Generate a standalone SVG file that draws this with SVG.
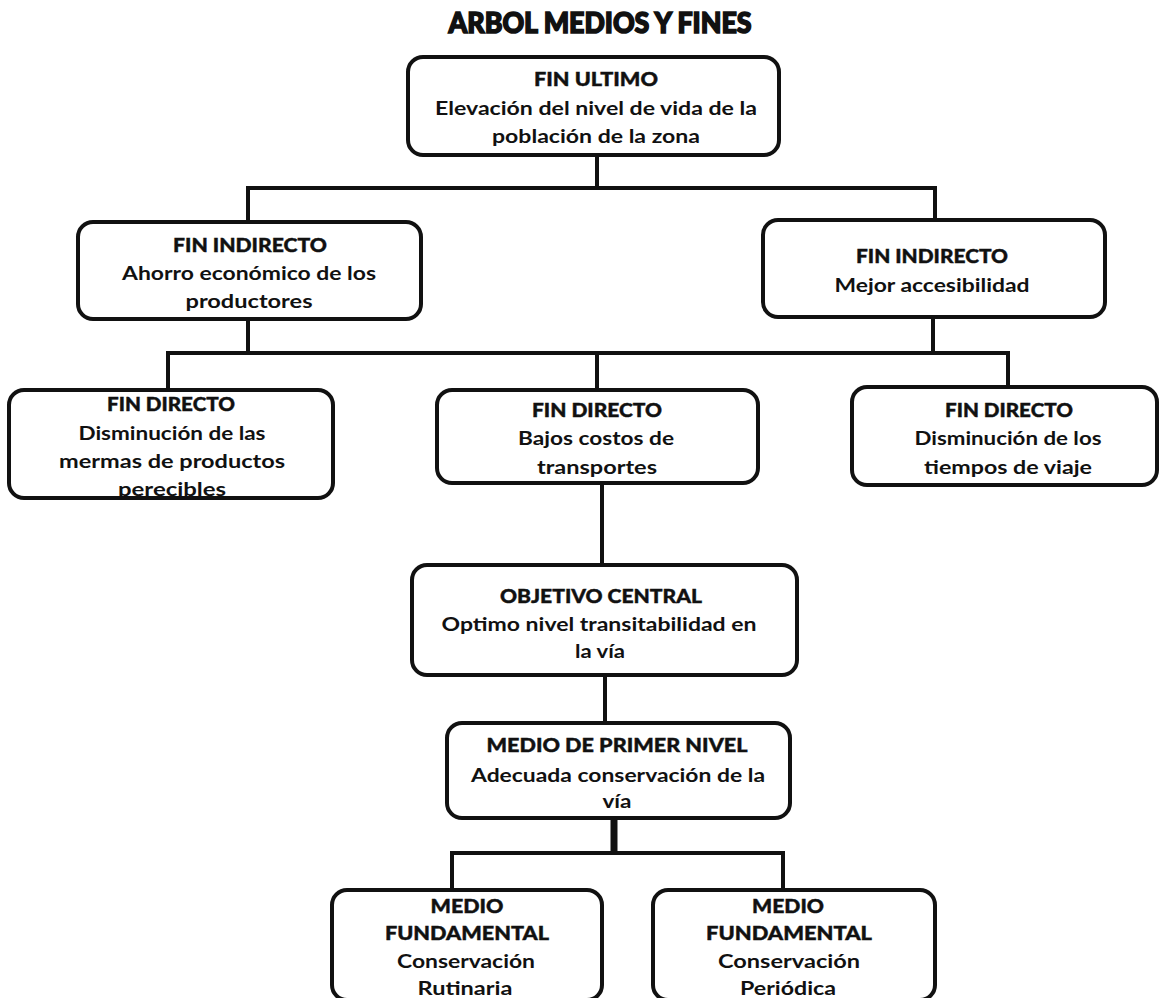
<svg xmlns="http://www.w3.org/2000/svg" width="1162" height="998" viewBox="0 0 1162 998">
<style>
.box{fill:#fff;stroke:#111;stroke-width:4}
.t{font-family:Lato,"Open Sans","Liberation Sans",sans-serif;font-size:19px;font-weight:bold;fill:#111;text-anchor:middle}
.h{font-family:Lato,"Open Sans","Liberation Sans",sans-serif;font-size:19px;font-weight:900;fill:#111;stroke:#111;stroke-width:0.4;text-anchor:middle}
.c{stroke:#111;stroke-width:4;fill:none;stroke-linecap:square}
.title{font-family:Lato,"Liberation Sans",sans-serif;font-size:29px;font-weight:900;fill:#111;stroke:#111;stroke-width:1.6;text-anchor:middle}
</style>
<rect width="1162" height="998" fill="#fff"/>
<text class="title" x="600" y="33" textLength="303" lengthAdjust="spacingAndGlyphs">ARBOL MEDIOS Y FINES</text>

<g id="connectors">
<path class="c" d="M597 155V188M248 188H935M248 188V222M935 188V220"/>
<path class="c" d="M248 319V353M933 317V353M168 353H1008M168 353V390M597 353V390M1008 353V387"/>
<path class="c" d="M602 483V565M605 675V723"/>
<path d="M614 818V853" stroke="#111" stroke-width="7"/>
<path class="c" d="M452 853H783M452 853V890M783 853V890"/>
</g>

<g id="fin-ultimo">
<rect class="box" x="408" y="57" width="371" height="98" rx="15"/>
<text class="h" x="596" y="86" textLength="124" lengthAdjust="spacingAndGlyphs">FIN ULTIMO</text>
<text class="t" x="596" y="115" textLength="322" lengthAdjust="spacingAndGlyphs">Elevación del nivel de vida de la</text>
<text class="t" x="596" y="143" textLength="208" lengthAdjust="spacingAndGlyphs">población de la zona</text>
</g>

<g id="fin-indirecto-1">
<rect class="box" x="78" y="222" width="343" height="97" rx="15"/>
<text class="h" x="250" y="252" textLength="154" lengthAdjust="spacingAndGlyphs">FIN INDIRECTO</text>
<text class="t" x="249" y="280" textLength="254" lengthAdjust="spacingAndGlyphs">Ahorro económico de los</text>
<text class="t" x="249" y="308" textLength="127" lengthAdjust="spacingAndGlyphs">productores</text>
</g>

<g id="fin-indirecto-2">
<rect class="box" x="763" y="220" width="342" height="97" rx="15"/>
<text class="h" x="932" y="263" textLength="152" lengthAdjust="spacingAndGlyphs">FIN INDIRECTO</text>
<text class="t" x="932" y="292" textLength="195" lengthAdjust="spacingAndGlyphs">Mejor accesibilidad</text>
</g>

<g id="fin-directo-1">
<rect class="box" x="9" y="390" width="324" height="108" rx="15"/>
<text class="h" x="171" y="411" textLength="128" lengthAdjust="spacingAndGlyphs">FIN DIRECTO</text>
<text class="t" x="172" y="440" textLength="187" lengthAdjust="spacingAndGlyphs">Disminución de las</text>
<text class="t" x="172" y="468" textLength="226" lengthAdjust="spacingAndGlyphs">mermas de productos</text>
<text class="t" x="172" y="496" textLength="108" lengthAdjust="spacingAndGlyphs" fill="#333">perecibles</text>
</g>

<g id="fin-directo-2">
<rect class="box" x="437" y="390" width="321" height="93" rx="15"/>
<text class="h" x="597" y="417" textLength="130" lengthAdjust="spacingAndGlyphs">FIN DIRECTO</text>
<text class="t" x="596" y="445" textLength="156" lengthAdjust="spacingAndGlyphs">Bajos costos de</text>
<text class="t" x="597" y="474" textLength="120" lengthAdjust="spacingAndGlyphs">transportes</text>
</g>

<g id="fin-directo-3">
<rect class="box" x="852" y="387" width="305" height="98" rx="15"/>
<text class="h" x="1009" y="417" textLength="128" lengthAdjust="spacingAndGlyphs">FIN DIRECTO</text>
<text class="t" x="1008" y="445" textLength="187" lengthAdjust="spacingAndGlyphs">Disminución de los</text>
<text class="t" x="1008" y="474" textLength="168" lengthAdjust="spacingAndGlyphs">tiempos de viaje</text>
</g>

<g id="objetivo-central">
<rect class="box" x="412" y="565" width="385" height="110" rx="15"/>
<text class="h" x="601" y="603" textLength="202" lengthAdjust="spacingAndGlyphs">OBJETIVO CENTRAL</text>
<text class="t" x="599" y="631" textLength="315" lengthAdjust="spacingAndGlyphs">Optimo nivel transitabilidad en</text>
<text class="t" x="600" y="658" textLength="50" lengthAdjust="spacingAndGlyphs">la vía</text>
</g>

<g id="medio-primer-nivel">
<rect class="box" x="447" y="723" width="343" height="95" rx="15"/>
<text class="h" x="617" y="752" textLength="261" lengthAdjust="spacingAndGlyphs">MEDIO DE PRIMER NIVEL</text>
<text class="t" x="618" y="782" textLength="294" lengthAdjust="spacingAndGlyphs">Adecuada conservación de la</text>
<text class="t" x="617" y="808" textLength="29" lengthAdjust="spacingAndGlyphs">vía</text>
</g>

<g id="medio-fundamental-1">
<rect class="box" x="332" y="890" width="270" height="110" rx="15"/>
<text class="h" x="467" y="913" textLength="73" lengthAdjust="spacingAndGlyphs">MEDIO</text>
<text class="h" x="467" y="940" textLength="164" lengthAdjust="spacingAndGlyphs">FUNDAMENTAL</text>
<text class="t" x="466" y="968" textLength="138" lengthAdjust="spacingAndGlyphs">Conservación</text>
<text class="t" x="465" y="995" textLength="95" lengthAdjust="spacingAndGlyphs">Rutinaria</text>
</g>

<g id="medio-fundamental-2">
<rect class="box" x="653" y="890" width="282" height="110" rx="15"/>
<text class="h" x="788" y="913" textLength="72" lengthAdjust="spacingAndGlyphs">MEDIO</text>
<text class="h" x="789" y="940" textLength="166" lengthAdjust="spacingAndGlyphs">FUNDAMENTAL</text>
<text class="t" x="789" y="968" textLength="142" lengthAdjust="spacingAndGlyphs">Conservación</text>
<text class="t" x="788" y="995" textLength="96" lengthAdjust="spacingAndGlyphs">Periódica</text>
</g>
</svg>
